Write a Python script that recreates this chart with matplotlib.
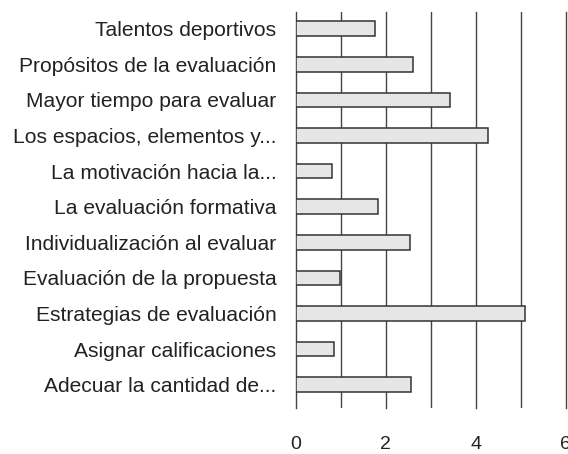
import matplotlib.pyplot as plt
import numpy as np

plt.rcParams['font.family'] = ['Liberation Sans', 'DejaVu Sans']

# Data (top to bottom)
labels = ['Talentos deportivos', 'Propósitos de la evaluación', 'Mayor tiempo para evaluar',
          'Los espacios, elementos y...', 'La motivación hacia la...', 'La evaluación formativa',
          'Individualización al evaluar', 'Evaluación de la propuesta', 'Estrategias de evaluación',
          'Asignar calificaciones', 'Adecuar la cantidad de...']
values = [1.76, 2.60, 3.42, 4.28, 0.80, 1.82, 2.54, 0.98, 5.10, 0.86, 2.57]
y = np.arange(len(labels))

fig = plt.figure(figsize=(5.68, 4.54), dpi=100)
ax = fig.add_axes([0.5206, 0.1007, 0.4753, 0.8722])

ax.barh(y, values, height=0.41, color='#e6e6e6', edgecolor='#333333', linewidth=1.1, zorder=3)

ax.set_xlim(0, 6)
ax.set_ylim(10.66, -0.46)
ax.set_xticks([0, 2, 4, 6])
ax.set_xticks([1, 3, 5], minor=True)
ax.set_yticks(y)
ax.set_yticklabels(labels, fontsize=15.1, color='#222222')
ax.tick_params(axis='y', length=0, pad=14)
ax.tick_params(axis='x', which='both', length=0, pad=20, labelsize=14, labelcolor='#222222')
ax.grid(axis='x', which='both', color='#444444', linewidth=1.0, zorder=0)
ax.grid(axis='y', visible=False)
for gl in ax.get_xgridlines() + ax.xaxis.get_minorticklines():
    gl.set_clip_on(False)
for s in ax.spines.values():
    s.set_visible(False)

fig.savefig('out.png', dpi=100)
